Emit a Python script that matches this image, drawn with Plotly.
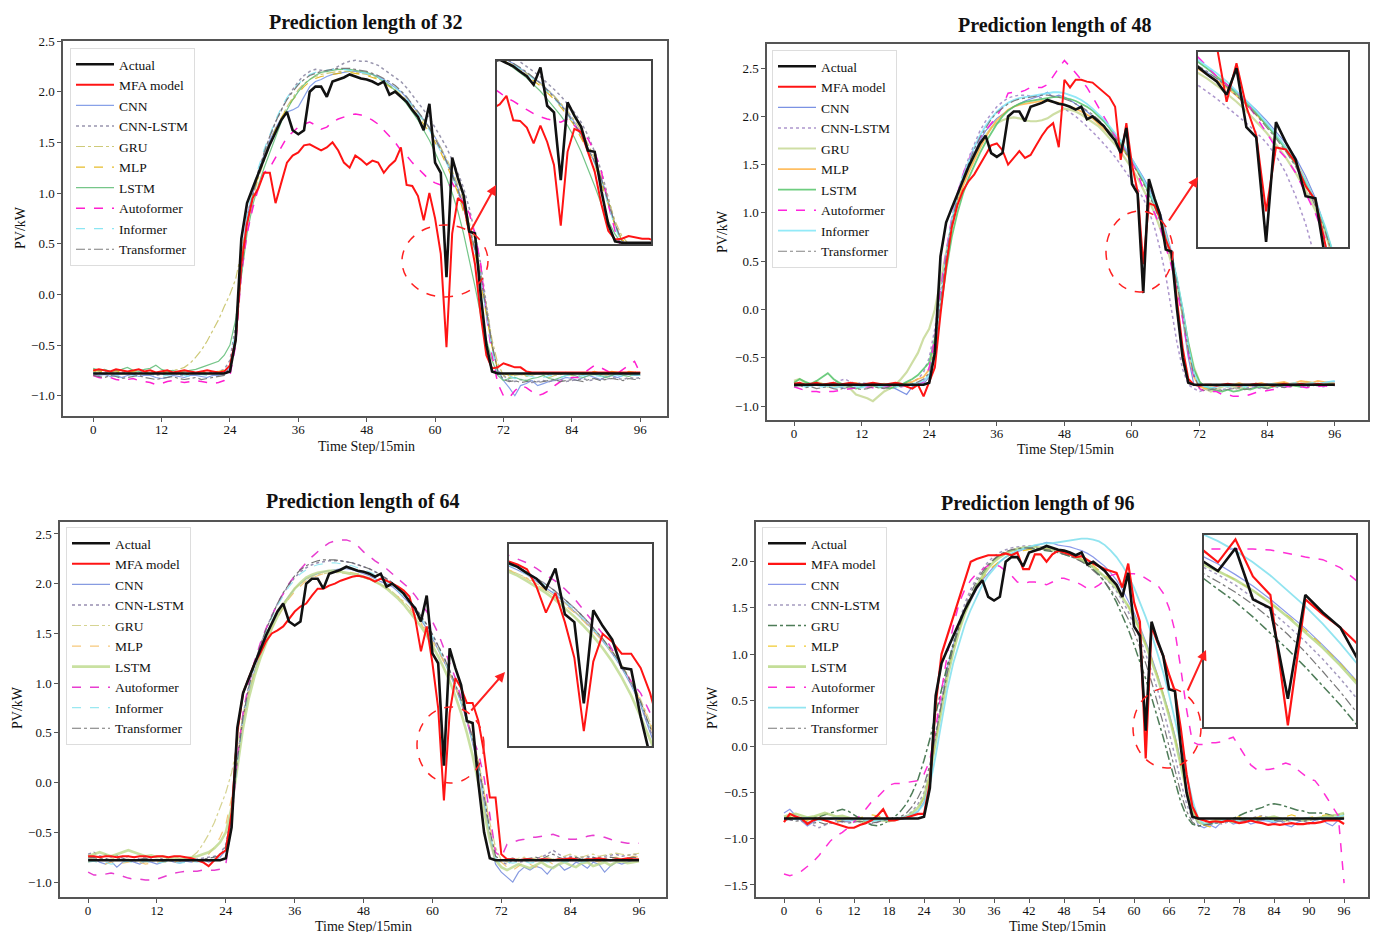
import plotly.graph_objects as go

W, H = 1375, 932
SERIF = "Liberation Serif, Times New Roman, serif"


def px(x):
    return x / W


def py(y):
    return 1 - y / H


# ---------------- data ----------------
X_TICKS_A = [0, 12, 24, 36, 48, 60, 72, 84, 96]
X_TICKS_B = [0, 6, 12, 18, 24, 30, 36, 42, 48, 54, 60, 66, 72, 78, 84, 90, 96]
Y_TICKS_A = [-1.0, -0.5, 0.0, 0.5, 1.0, 1.5, 2.0, 2.5]
Y_TICKS_B = [-1.5, -1.0, -0.5, 0.0, 0.5, 1.0, 1.5, 2.0]
TITLES = ["Prediction length of 32", "Prediction length of 48",
          "Prediction length of 64", "Prediction length of 96"]
LEGEND_ORDER = ["Actual", "MFA model", "CNN", "CNN-LSTM", "GRU", "MLP", "LSTM",
                "Autoformer", "Informer", "Transformer"]

ACTUAL = [
    -0.78, -0.78, -0.78, -0.78, -0.78, -0.78, -0.78, -0.78, -0.78, -0.78, -0.78, -0.78,
    -0.78, -0.78, -0.78, -0.78, -0.78, -0.78, -0.78, -0.78, -0.78, -0.78, -0.78, -0.78,
    -0.76, -0.45, 0.55, 0.9, 1.05, 1.2, 1.33, 1.48, 1.6, 1.72,
    1.8, 1.62, 1.58, 1.62, 2.0, 2.05, 2.05, 1.95, 2.1, 2.12,
    2.14, 2.17, 2.15, 2.13, 2.12, 2.1, 2.07, 2.1, 1.97, 2.0,
    1.95, 1.9, 1.82, 1.75, 1.62, 1.88, 1.3, 1.2, 0.17, 1.35,
    1.15, 0.98, 0.62, 0.6, 0.0, -0.5, -0.76,
    -0.78, -0.78, -0.78, -0.78, -0.78, -0.78, -0.78, -0.78, -0.78, -0.78, -0.78, -0.78, -0.78,
    -0.78, -0.78, -0.78, -0.78, -0.78, -0.78, -0.78, -0.78, -0.78, -0.78, -0.78, -0.78, -0.78]

# ---- panel 1 (length 32) ----
P1_MFA = [
    -0.75, -0.74, -0.75, -0.76, -0.74, -0.75, -0.76, -0.75, -0.74, -0.76, -0.75, -0.77,
    -0.76, -0.75, -0.77, -0.76, -0.75, -0.76, -0.77, -0.76, -0.75, -0.76, -0.77, -0.76,
    -0.7, -0.45, 0.3, 0.7, 0.95, 1.05, 1.2, 1.2, 0.9, 1.1,
    1.3, 1.37, 1.4, 1.47, 1.48, 1.45, 1.42, 1.45, 1.5, 1.42,
    1.3, 1.25, 1.37, 1.33, 1.28, 1.32, 1.3, 1.2, 1.27, 1.32,
    1.45, 1.08, 1.07, 0.97, 0.73, 1.0, 0.75, 0.4, -0.52, 0.6,
    0.95, 0.9, 0.6, 0.3, -0.2, -0.6, -0.73, -0.72,
    -0.68, -0.7, -0.72, -0.72, -0.76, -0.77, -0.77, -0.77, -0.77, -0.77, -0.77, -0.77, -0.77,
    -0.77, -0.77, -0.77, -0.77, -0.77, -0.77, -0.77, -0.77, -0.77, -0.77, -0.77, -0.77]
P1_CNN = [
    -0.78, -0.8, -0.79, -0.81, -0.8, -0.82, -0.8, -0.79, -0.81, -0.8, -0.8, -0.82,
    -0.83, -0.82, -0.8, -0.81, -0.82, -0.8, -0.8, -0.81, -0.82, -0.8, -0.8, -0.78,
    -0.72, -0.4, 0.35, 0.78, 1.0, 1.2, 1.38, 1.52, 1.64, 1.74,
    1.8, 1.82, 1.85, 1.95, 2.05, 2.1, 2.12, 2.15, 2.17, 2.18,
    2.19, 2.2, 2.2, 2.19, 2.18, 2.17, 2.15, 2.12, 2.08, 2.04,
    2.0, 1.94, 1.87, 1.8, 1.72, 1.65, 1.55, 1.45, 1.32, 1.2,
    1.05, 0.85, 0.65, 0.45, 0.2, -0.15, -0.5, -0.75,
    -0.85, -0.92, -1.0, -0.9, -0.88, -0.85, -0.9, -0.88, -0.86, -0.85, -0.84, -0.82, -0.83,
    -0.85, -0.82, -0.8, -0.82, -0.84, -0.81, -0.8, -0.82, -0.8, -0.79, -0.8, -0.8]
P1_CNN_LSTM = [
    -0.75, -0.77, -0.76, -0.78, -0.77, -0.76, -0.78, -0.79, -0.77, -0.76, -0.78, -0.8,
    -0.79, -0.78, -0.77, -0.79, -0.8, -0.78, -0.77, -0.79, -0.78, -0.77, -0.76, -0.74,
    -0.65, -0.3, 0.3, 0.75, 1.02, 1.22, 1.4, 1.56, 1.7, 1.82,
    1.93, 2.02, 2.1, 2.16, 2.2, 2.22, 2.21, 2.2, 2.22, 2.25,
    2.28, 2.3, 2.31, 2.3, 2.3, 2.28, 2.26, 2.22, 2.18, 2.14,
    2.1, 2.04, 1.97, 1.9, 1.82, 1.74, 1.65, 1.55, 1.45, 1.33,
    1.2, 1.05, 0.85, 0.6, 0.3, -0.1, -0.5, -0.75,
    -0.8, -0.85, -0.86, -0.84, -0.85, -0.87, -0.86, -0.85, -0.86, -0.85, -0.84, -0.86, -0.85,
    -0.84, -0.83, -0.85, -0.84, -0.83, -0.84, -0.82, -0.83, -0.84, -0.82, -0.83, -0.82]
P1_GRU = [
    -0.74, -0.76, -0.75, -0.77, -0.76, -0.78, -0.77, -0.76, -0.78, -0.77, -0.79, -0.78,
    -0.77, -0.76, -0.75, -0.74, -0.72, -0.68, -0.62, -0.55, -0.46, -0.36, -0.25, -0.12,
    0.0, 0.15, 0.42, 0.7, 0.95, 1.15, 1.32, 1.48, 1.62, 1.74,
    1.85, 1.94, 2.02, 2.08, 2.12, 2.15, 2.17, 2.18, 2.19, 2.2,
    2.2, 2.2, 2.19, 2.18, 2.17, 2.15, 2.13, 2.1, 2.06, 2.02,
    1.97, 1.92, 1.86, 1.79, 1.72, 1.64, 1.55, 1.45, 1.34, 1.22,
    1.08, 0.92, 0.72, 0.5, 0.22, -0.12, -0.45, -0.68,
    -0.8, -0.82, -0.8, -0.79, -0.81, -0.8, -0.78, -0.8, -0.82, -0.8, -0.79, -0.78, -0.8,
    -0.81, -0.79, -0.78, -0.77, -0.79, -0.8, -0.78, -0.77, -0.78, -0.79, -0.78, -0.77]
P1_MLP = [
    -0.76, -0.75, -0.77, -0.76, -0.75, -0.77, -0.78, -0.76, -0.75, -0.77, -0.78, -0.77,
    -0.76, -0.78, -0.77, -0.76, -0.78, -0.79, -0.77, -0.76, -0.78, -0.77, -0.76, -0.75,
    -0.7, -0.42, 0.25, 0.7, 0.98, 1.18, 1.36, 1.5, 1.63, 1.74,
    1.84, 1.92, 1.99, 2.05, 2.1, 2.13, 2.15, 2.16, 2.17, 2.18,
    2.19, 2.19, 2.18, 2.17, 2.16, 2.14, 2.12, 2.09, 2.05, 2.01,
    1.96, 1.9, 1.83, 1.76, 1.68, 1.6, 1.5, 1.4, 1.28, 1.15,
    1.0, 0.82, 0.62, 0.4, 0.12, -0.2, -0.52, -0.74,
    -0.78, -0.8, -0.79, -0.78, -0.8, -0.79, -0.78, -0.77, -0.79, -0.8, -0.78, -0.77, -0.76,
    -0.78, -0.79, -0.77, -0.76, -0.78, -0.77, -0.76, -0.77, -0.78, -0.76, -0.77, -0.76]
P1_LSTM = [
    -0.73, -0.75, -0.74, -0.76, -0.75, -0.74, -0.72, -0.75, -0.76, -0.74, -0.73, -0.7,
    -0.74, -0.76, -0.75, -0.77, -0.76, -0.75, -0.74, -0.72, -0.7, -0.68, -0.66, -0.6,
    -0.5, -0.25, 0.2, 0.6, 0.88, 1.08, 1.25, 1.4, 1.55, 1.7,
    1.82, 1.92, 2.0, 2.07, 2.12, 2.16, 2.19, 2.2, 2.21, 2.22,
    2.22, 2.22, 2.21, 2.2, 2.19, 2.17, 2.14, 2.1, 2.06, 2.01,
    1.95, 1.88, 1.8, 1.72, 1.62, 1.52, 1.4, 1.28, 1.15, 1.0,
    0.82, 0.6, 0.35, 0.08, -0.2, -0.45, -0.65, -0.8,
    -0.85, -0.83, -0.82, -0.84, -0.85, -0.83, -0.82, -0.8, -0.83, -0.84, -0.82, -0.8, -0.79,
    -0.81, -0.82, -0.8, -0.79, -0.8, -0.82, -0.8, -0.78, -0.8, -0.81, -0.79, -0.8]
P1_AUTOFORMER = [
    -0.8, -0.82, -0.83, -0.82, -0.84, -0.85, -0.84, -0.83, -0.85, -0.86, -0.87, -0.89,
    -0.88, -0.86, -0.85, -0.86, -0.87, -0.86, -0.85, -0.86, -0.87, -0.88, -0.87, -0.85,
    -0.8, -0.5, 0.2, 0.6, 0.85, 1.05, 1.2, 1.25, 1.35, 1.45,
    1.55, 1.6, 1.65, 1.68, 1.7, 1.67, 1.63, 1.65, 1.7, 1.73,
    1.75, 1.77, 1.78, 1.77, 1.75, 1.72, 1.68, 1.62, 1.57, 1.5,
    1.42, 1.37, 1.3, 1.24, 1.18, 1.13, 1.1, 1.08, 1.05, 1.1,
    1.0, 0.9, 0.8, 0.6, 0.3, -0.2, -0.6, -0.88,
    -1.0, -1.02, -0.95, -0.9, -0.92, -0.96, -1.0, -0.98, -0.95, -0.9, -0.86, -0.84, -0.82,
    -0.82, -0.78, -0.74, -0.7, -0.72, -0.75, -0.78, -0.78, -0.74, -0.7, -0.66, -0.78]
P1_INFORMER = [
    -0.77, -0.78, -0.79, -0.78, -0.8, -0.79, -0.78, -0.8, -0.81, -0.79, -0.78, -0.8,
    -0.81, -0.8, -0.79, -0.78, -0.8, -0.81, -0.8, -0.79, -0.8, -0.79, -0.78, -0.77,
    -0.7, -0.35, 0.3, 0.78, 1.03, 1.25, 1.43, 1.58, 1.72, 1.84,
    1.94, 2.02, 2.08, 2.13, 2.17, 2.19, 2.2, 2.21, 2.22, 2.22,
    2.22, 2.21, 2.2, 2.19, 2.18, 2.16, 2.14, 2.11, 2.08, 2.04,
    1.99, 1.93, 1.86, 1.79, 1.71, 1.62, 1.52, 1.41, 1.3, 1.17,
    1.02, 0.85, 0.65, 0.42, 0.15, -0.2, -0.55, -0.78,
    -0.82, -0.8, -0.83, -0.82, -0.8, -0.81, -0.83, -0.82, -0.8, -0.81, -0.82, -0.8, -0.79,
    -0.81, -0.8, -0.79, -0.8, -0.81, -0.8, -0.79, -0.8, -0.81, -0.8, -0.79, -0.8]
P1_TRANSFORMER = [
    -0.8, -0.81, -0.82, -0.8, -0.81, -0.83, -0.82, -0.81, -0.8, -0.82, -0.83, -0.84,
    -0.83, -0.82, -0.81, -0.83, -0.84, -0.83, -0.82, -0.84, -0.83, -0.82, -0.81, -0.8,
    -0.72, -0.45, 0.2, 0.7, 0.98, 1.2, 1.4, 1.56, 1.7, 1.82,
    1.92, 2.0, 2.07, 2.12, 2.16, 2.18, 2.2, 2.21, 2.22, 2.23,
    2.23, 2.23, 2.22, 2.21, 2.2, 2.18, 2.16, 2.13, 2.1, 2.06,
    2.01, 1.95, 1.88, 1.81, 1.73, 1.64, 1.54, 1.43, 1.31, 1.18,
    1.03, 0.86, 0.66, 0.44, 0.18, -0.15, -0.5, -0.76,
    -0.84, -0.86, -0.85, -0.87, -0.86, -0.85, -0.87, -0.86, -0.85, -0.84, -0.86, -0.85, -0.84,
    -0.85, -0.86, -0.84, -0.83, -0.85, -0.84, -0.83, -0.84, -0.85, -0.83, -0.84, -0.83]

# ---- panel 2 (length 48) ----
P2_MFA = [
    -0.77, -0.76, -0.78, -0.77, -0.76, -0.78, -0.77, -0.76, -0.78, -0.77, -0.76, -0.77,
    -0.78, -0.77, -0.76, -0.77, -0.78, -0.77, -0.76, -0.77, -0.8, -0.82, -0.78, -0.9,
    -0.75, -0.6, -0.05, 0.45, 0.85, 1.08, 1.23, 1.33, 1.4, 1.5,
    1.6, 1.7, 1.72, 1.65, 1.5, 1.57, 1.64, 1.57, 1.6, 1.7,
    1.8, 1.88, 1.93, 1.68, 2.38, 2.3, 2.38, 2.38, 2.36, 2.35,
    2.3, 2.25, 2.2, 2.1, 1.55, 1.93, 1.5, 1.22, 0.47, 1.1,
    1.08, 0.95, 0.72, 0.58, 0.1, -0.4, -0.72, -0.78,
    -0.79, -0.78, -0.78, -0.79, -0.78, -0.77, -0.78, -0.79, -0.78, -0.78, -0.77, -0.78, -0.78,
    -0.79, -0.78, -0.77, -0.78, -0.78, -0.77, -0.78, -0.78, -0.77, -0.78, -0.78, -0.78]
P2_CNN = [
    -0.78, -0.76, -0.8, -0.78, -0.77, -0.79, -0.78, -0.76, -0.8, -0.82, -0.78, -0.77,
    -0.79, -0.8, -0.78, -0.77, -0.79, -0.8, -0.82, -0.85, -0.88, -0.8, -0.78, -0.77,
    -0.7, -0.45, 0.0, 0.5, 0.9, 1.15, 1.35, 1.5, 1.63, 1.75,
    1.85, 1.92, 1.98, 2.02, 2.06, 2.1, 2.13, 2.16, 2.18, 2.2,
    2.22, 2.25, 2.2, 2.22, 2.2, 2.17, 2.13, 2.09, 2.05, 2.0,
    1.95, 1.9, 1.84, 1.78, 1.72, 1.65, 1.56, 1.47, 1.37, 1.26,
    1.14, 1.0, 0.82, 0.6, 0.3, -0.1, -0.5, -0.78,
    -0.8, -0.78, -0.82, -0.8, -0.79, -0.78, -0.8, -0.81, -0.78, -0.79, -0.8, -0.78, -0.77,
    -0.79, -0.8, -0.78, -0.77, -0.78, -0.8, -0.79, -0.77, -0.78, -0.76, -0.75, -0.75]
P2_CNN_LSTM = [
    -0.77, -0.78, -0.76, -0.77, -0.79, -0.78, -0.77, -0.76, -0.74, -0.72, -0.75, -0.77,
    -0.76, -0.77, -0.78, -0.8, -0.82, -0.81, -0.8, -0.78, -0.76, -0.75, -0.72, -0.65,
    -0.5, -0.2, 0.2, 0.6, 0.95, 1.2, 1.4, 1.57, 1.72, 1.85,
    1.95, 2.03, 2.1, 2.15, 2.19, 2.21, 2.22, 2.22, 2.21, 2.2,
    2.19, 2.17, 2.15, 2.12, 2.08, 2.04, 2.0, 1.95, 1.9, 1.84,
    1.78, 1.72, 1.65, 1.58, 1.5, 1.42, 1.34, 1.25, 1.15, 1.02,
    0.85, 0.62, 0.35, 0.0, -0.35, -0.62, -0.78, -0.82,
    -0.85, -0.83, -0.82, -0.84, -0.83, -0.82, -0.81, -0.83, -0.82, -0.8, -0.81, -0.82, -0.8,
    -0.79, -0.81, -0.8, -0.79, -0.78, -0.8, -0.79, -0.78, -0.79, -0.8, -0.78, -0.79]
P2_GRU = [
    -0.74, -0.72, -0.76, -0.78, -0.75, -0.77, -0.8, -0.78, -0.76, -0.8, -0.82, -0.88,
    -0.9, -0.92, -0.95, -0.9, -0.85, -0.82, -0.78, -0.72, -0.65, -0.55, -0.45, -0.3,
    -0.2, 0.0, 0.3, 0.6, 0.88, 1.1, 1.3, 1.45, 1.58, 1.7,
    1.8, 1.88, 1.93, 1.96, 1.98, 1.99, 1.98, 1.96, 1.95, 1.95,
    1.96, 1.98, 2.02, 2.05, 2.08, 2.07, 2.05, 2.02, 1.98, 1.94,
    1.9, 1.84, 1.78, 1.71, 1.63, 1.55, 1.46, 1.36, 1.25, 1.13,
    1.0, 0.85, 0.68, 0.48, 0.25, -0.05, -0.35, -0.6,
    -0.75, -0.82, -0.85, -0.83, -0.8, -0.78, -0.8, -0.82, -0.8, -0.78, -0.77, -0.79, -0.8,
    -0.78, -0.77, -0.76, -0.78, -0.79, -0.77, -0.75, -0.76, -0.78, -0.77, -0.76, -0.77]
P2_MLP = [
    -0.78, -0.77, -0.79, -0.78, -0.76, -0.77, -0.78, -0.79, -0.8, -0.78, -0.77, -0.76,
    -0.78, -0.8, -0.79, -0.78, -0.77, -0.79, -0.8, -0.78, -0.76, -0.75, -0.72, -0.7,
    -0.62, -0.35, 0.05, 0.5, 0.85, 1.1, 1.28, 1.42, 1.55, 1.67,
    1.78, 1.88, 1.96, 2.02, 2.07, 2.1, 2.12, 2.13, 2.14, 2.15,
    2.16, 2.16, 2.15, 2.14, 2.12, 2.1, 2.08, 2.05, 2.02, 1.98,
    1.93, 1.88, 1.82, 1.76, 1.69, 1.61, 1.52, 1.43, 1.33, 1.22,
    1.1, 0.96, 0.78, 0.56, 0.3, -0.05, -0.42, -0.7,
    -0.8, -0.82, -0.8, -0.78, -0.79, -0.8, -0.78, -0.76, -0.78, -0.79, -0.77, -0.76, -0.78,
    -0.77, -0.76, -0.75, -0.77, -0.76, -0.74, -0.75, -0.76, -0.74, -0.75, -0.76, -0.77]
P2_LSTM = [
    -0.76, -0.72, -0.75, -0.77, -0.74, -0.7, -0.66, -0.72, -0.76, -0.78, -0.8, -0.82,
    -0.8, -0.78, -0.79, -0.81, -0.8, -0.82, -0.8, -0.78, -0.75, -0.72, -0.68, -0.62,
    -0.55, -0.3, 0.0, 0.4, 0.75, 1.0, 1.2, 1.36, 1.5, 1.62,
    1.73, 1.83, 1.92, 2.0, 2.06, 2.1, 2.13, 2.15, 2.16, 2.17,
    2.18, 2.19, 2.2, 2.2, 2.19, 2.18, 2.16, 2.13, 2.1, 2.06,
    2.01, 1.95, 1.88, 1.8, 1.72, 1.63, 1.54, 1.44, 1.33, 1.21,
    1.08, 0.93, 0.76, 0.56, 0.3, 0.0, -0.35, -0.62,
    -0.75, -0.8, -0.82, -0.84, -0.85, -0.83, -0.85, -0.84, -0.82, -0.83, -0.81, -0.8, -0.82,
    -0.8, -0.79, -0.8, -0.78, -0.79, -0.8, -0.78, -0.77, -0.78, -0.79, -0.77, -0.78]
P2_AUTOFORMER = [
    -0.8, -0.82, -0.84, -0.85, -0.85, -0.86, -0.85, -0.85, -0.84, -0.83, -0.82, -0.81,
    -0.8, -0.8, -0.81, -0.8, -0.8, -0.79, -0.8, -0.8, -0.79, -0.78, -0.77, -0.75,
    -0.6, -0.3, 0.2, 0.6, 0.95, 1.2, 1.4, 1.55, 1.68, 1.78,
    1.85, 1.92, 2.0, 2.1, 2.24, 2.25, 2.25, 2.27, 2.3, 2.3,
    2.3, 2.33, 2.42, 2.5, 2.58, 2.52, 2.45, 2.38, 2.3, 2.2,
    2.1, 2.0, 1.9, 1.8, 1.72, 1.65, 1.55, 1.4, 1.25, 1.1,
    1.0, 0.85, 0.65, 0.45, 0.2, -0.1, -0.45, -0.7,
    -0.82, -0.85, -0.85, -0.85, -0.88, -0.88, -0.9, -0.9, -0.9, -0.88, -0.86, -0.85, -0.84,
    -0.83, -0.82, -0.8, -0.8, -0.8, -0.8, -0.81, -0.8, -0.8, -0.79, -0.8, -0.8]
P2_INFORMER = [
    -0.79, -0.78, -0.8, -0.79, -0.78, -0.8, -0.79, -0.81, -0.8, -0.79, -0.78, -0.8,
    -0.81, -0.79, -0.78, -0.8, -0.79, -0.78, -0.8, -0.79, -0.78, -0.77, -0.76, -0.74,
    -0.68, -0.4, 0.05, 0.55, 0.92, 1.18, 1.38, 1.54, 1.68, 1.8,
    1.9, 1.98, 2.05, 2.1, 2.14, 2.17, 2.19, 2.2, 2.21, 2.22,
    2.23, 2.24, 2.25, 2.25, 2.24, 2.22, 2.2, 2.17, 2.13, 2.08,
    2.03, 1.97, 1.9, 1.83, 1.75, 1.66, 1.56, 1.46, 1.35, 1.23,
    1.1, 0.95, 0.78, 0.57, 0.32, 0.0, -0.38, -0.66,
    -0.78, -0.8, -0.81, -0.8, -0.79, -0.8, -0.78, -0.79, -0.8, -0.78, -0.77, -0.79, -0.78,
    -0.77, -0.78, -0.79, -0.77, -0.76, -0.78, -0.77, -0.76, -0.77, -0.76, -0.75, -0.74]
P2_TRANSFORMER = [
    -0.8, -0.79, -0.81, -0.8, -0.82, -0.81, -0.8, -0.82, -0.83, -0.81, -0.8, -0.82,
    -0.83, -0.82, -0.8, -0.81, -0.82, -0.8, -0.79, -0.8, -0.78, -0.77, -0.75, -0.72,
    -0.66, -0.38, 0.08, 0.55, 0.9, 1.15, 1.36, 1.52, 1.66, 1.78,
    1.88, 1.97, 2.04, 2.09, 2.13, 2.16, 2.18, 2.19, 2.2, 2.21,
    2.22, 2.22, 2.21, 2.2, 2.18, 2.16, 2.13, 2.1, 2.06, 2.02,
    1.97, 1.91, 1.85, 1.78, 1.7, 1.61, 1.52, 1.42, 1.31, 1.19,
    1.06, 0.91, 0.73, 0.52, 0.27, -0.05, -0.42, -0.68,
    -0.82, -0.84, -0.83, -0.82, -0.84, -0.83, -0.82, -0.81, -0.83, -0.82, -0.8, -0.81, -0.82,
    -0.8, -0.79, -0.81, -0.8, -0.79, -0.78, -0.8, -0.79, -0.78, -0.77, -0.78, -0.77]

# ---- panel 3 (length 64) ----
P3_MFA = [
    -0.74, -0.74, -0.75, -0.74, -0.74, -0.75, -0.74, -0.74, -0.75, -0.74, -0.74, -0.75,
    -0.74, -0.74, -0.75, -0.74, -0.74, -0.75, -0.76, -0.78, -0.8, -0.84, -0.78, -0.72,
    -0.68, -0.3, 0.5, 0.9, 1.05, 1.2, 1.3, 1.42, 1.5, 1.53,
    1.57, 1.65, 1.72, 1.77, 1.8, 1.88, 1.95, 1.95, 1.98, 2.0,
    2.03, 2.05, 2.07, 2.08, 2.07, 2.05, 2.02, 2.05, 2.03, 2.0,
    1.97, 1.93, 1.87, 1.65, 1.32, 1.57, 1.2, 0.75, -0.18, 0.7,
    1.05, 0.95, 0.8, 0.8, 0.62, 0.3, -0.15, -0.15,
    -0.72, -0.77, -0.77, -0.78, -0.77, -0.77, -0.78, -0.77, -0.77, -0.78, -0.77, -0.77, -0.76,
    -0.77, -0.78, -0.77, -0.77, -0.76, -0.77, -0.78, -0.77, -0.77, -0.76, -0.77, -0.77]
P3_CNN = [
    -0.78, -0.76, -0.8, -0.82, -0.79, -0.85, -0.8, -0.78, -0.8, -0.82, -0.79, -0.8,
    -0.82, -0.8, -0.78, -0.8, -0.81, -0.79, -0.8, -0.78, -0.77, -0.8, -0.78, -0.75,
    -0.68, -0.35, 0.2, 0.6, 0.9, 1.12, 1.3, 1.45, 1.58, 1.7,
    1.8, 1.88, 1.95, 2.0, 2.05, 2.08, 2.1, 2.12, 2.13, 2.14,
    2.15, 2.15, 2.14, 2.12, 2.1, 2.08, 2.05, 2.02, 2.0, 1.97,
    1.92, 1.86, 1.8, 1.72, 1.64, 1.55, 1.45, 1.34, 1.22, 1.1,
    0.96, 0.8, 0.62, 0.4, 0.15, -0.2, -0.55, -0.82,
    -0.9, -0.95, -1.0, -0.9, -0.85, -0.88, -0.84, -0.86, -0.92, -0.85, -0.82, -0.88, -0.85,
    -0.8, -0.82, -0.86, -0.8, -0.82, -0.9, -0.84, -0.8, -0.82, -0.8, -0.78, -0.78]
P3_CNN_LSTM = [
    -0.72, -0.7, -0.74, -0.72, -0.75, -0.73, -0.76, -0.74, -0.75, -0.77, -0.74, -0.76,
    -0.75, -0.77, -0.76, -0.78, -0.77, -0.76, -0.78, -0.77, -0.76, -0.75, -0.74, -0.72,
    -0.62, -0.3, 0.25, 0.68, 0.98, 1.2, 1.38, 1.54, 1.68, 1.8,
    1.9, 1.99, 2.06, 2.12, 2.16, 2.19, 2.21, 2.22, 2.23, 2.23,
    2.23, 2.22, 2.21, 2.19, 2.17, 2.15, 2.12, 2.09, 2.05, 2.01,
    1.96, 1.9, 1.83, 1.76, 1.68, 1.59, 1.49, 1.38, 1.26, 1.13,
    0.98, 0.82, 0.63, 0.42, 0.17, -0.15, -0.5, -0.75,
    -0.8, -0.82, -0.78, -0.8, -0.79, -0.78, -0.76, -0.75, -0.72, -0.68, -0.72, -0.75, -0.74,
    -0.76, -0.75, -0.74, -0.76, -0.75, -0.74, -0.73, -0.72, -0.74, -0.73, -0.72, -0.73]
P3_GRU = [
    -0.75, -0.77, -0.76, -0.78, -0.77, -0.76, -0.78, -0.77, -0.79, -0.78, -0.8, -0.79,
    -0.78, -0.8, -0.79, -0.78, -0.77, -0.78, -0.75, -0.7, -0.62, -0.52, -0.4, -0.25,
    -0.1, 0.1, 0.4, 0.68, 0.92, 1.12, 1.3, 1.45, 1.58, 1.7,
    1.8, 1.88, 1.95, 2.0, 2.04, 2.07, 2.09, 2.1, 2.11, 2.11,
    2.11, 2.1, 2.09, 2.08, 2.06, 2.04, 2.02, 1.99, 1.96, 1.92,
    1.87, 1.82, 1.76, 1.69, 1.61, 1.53, 1.44, 1.34, 1.23, 1.11,
    0.98, 0.83, 0.66, 0.46, 0.22, -0.08, -0.4, -0.65,
    -0.78, -0.8, -0.78, -0.76, -0.75, -0.77, -0.76, -0.74, -0.75, -0.77, -0.76, -0.74, -0.72,
    -0.74, -0.75, -0.73, -0.72, -0.74, -0.73, -0.72, -0.71, -0.72, -0.73, -0.72, -0.71]
P3_MLP = [
    -0.8, -0.78, -0.8, -0.82, -0.8, -0.79, -0.81, -0.8, -0.78, -0.8, -0.82, -0.81,
    -0.8, -0.79, -0.81, -0.8, -0.78, -0.79, -0.8, -0.78, -0.76, -0.72, -0.65, -0.55,
    -0.42, -0.15, 0.25, 0.62, 0.9, 1.1, 1.27, 1.42, 1.55, 1.66,
    1.76, 1.85, 1.92, 1.98, 2.03, 2.06, 2.08, 2.1, 2.11, 2.12,
    2.12, 2.12, 2.11, 2.1, 2.08, 2.06, 2.03, 2.0, 1.96, 1.92,
    1.87, 1.81, 1.75, 1.68, 1.6, 1.51, 1.42, 1.32, 1.21, 1.09,
    0.96, 0.81, 0.64, 0.44, 0.2, -0.1, -0.45, -0.7,
    -0.8, -0.85, -0.88, -0.84, -0.8, -0.82, -0.85, -0.8, -0.78, -0.82, -0.8, -0.77, -0.79,
    -0.8, -0.78, -0.76, -0.78, -0.8, -0.77, -0.76, -0.75, -0.77, -0.76, -0.74, -0.75]
P3_LSTM = [
    -0.74, -0.72, -0.7, -0.72, -0.74, -0.72, -0.7, -0.68, -0.7, -0.72, -0.74, -0.73,
    -0.75, -0.74, -0.76, -0.75, -0.77, -0.76, -0.75, -0.74, -0.72, -0.7, -0.66, -0.6,
    -0.5, -0.25, 0.15, 0.55, 0.85, 1.07, 1.25, 1.41, 1.55, 1.67,
    1.78, 1.87, 1.95, 2.01, 2.06, 2.09, 2.11, 2.12, 2.13, 2.13,
    2.12, 2.11, 2.1, 2.09, 2.07, 2.05, 2.02, 1.99, 1.95, 1.9,
    1.85, 1.79, 1.72, 1.65, 1.57, 1.48, 1.38, 1.27, 1.15, 1.02,
    0.87, 0.7, 0.5, 0.27, 0.0, -0.3, -0.58, -0.78,
    -0.85, -0.88, -0.85, -0.82, -0.84, -0.86, -0.83, -0.8, -0.84, -0.86, -0.82, -0.8, -0.83,
    -0.85, -0.81, -0.8, -0.84, -0.82, -0.8, -0.83, -0.8, -0.79, -0.81, -0.8, -0.79]
P3_AUTOFORMER = [
    -0.9, -0.93, -0.93, -0.92, -0.91, -0.92, -0.94, -0.96, -0.97, -0.97, -0.98, -0.98,
    -0.97, -0.95, -0.93, -0.91, -0.9, -0.89, -0.89, -0.89, -0.88, -0.88, -0.88, -0.87,
    -0.82, -0.4, 0.25, 0.7, 1.0, 1.22, 1.4, 1.55, 1.68, 1.8,
    1.9, 2.0, 2.08, 2.15, 2.21, 2.27, 2.32, 2.37, 2.41, 2.43,
    2.44, 2.44, 2.42, 2.38, 2.32, 2.27, 2.23, 2.19, 2.15, 2.1,
    2.05, 2.0, 1.95, 1.88, 1.8, 1.72, 1.62, 1.5, 1.35, 1.2,
    1.05, 0.85, 0.62, 0.45, 0.3, 0.05, -0.35, -0.7,
    -0.75, -0.62, -0.6, -0.58, -0.57, -0.55, -0.55, -0.54, -0.53, -0.52, -0.54, -0.56, -0.57,
    -0.57, -0.56, -0.54, -0.53, -0.54, -0.55, -0.57, -0.59, -0.6, -0.61, -0.61, -0.61]
P3_INFORMER = [
    -0.8, -0.79, -0.81, -0.8, -0.82, -0.81, -0.8, -0.79, -0.81, -0.8, -0.79, -0.8,
    -0.81, -0.8, -0.79, -0.8, -0.81, -0.8, -0.79, -0.8, -0.79, -0.78, -0.77, -0.75,
    -0.65, -0.32, 0.2, 0.65, 0.95, 1.18, 1.36, 1.52, 1.66, 1.78,
    1.88, 1.97, 2.04, 2.1, 2.14, 2.17, 2.19, 2.2, 2.21, 2.21,
    2.2, 2.19, 2.18, 2.16, 2.14, 2.12, 2.09, 2.06, 2.02, 1.98,
    1.93, 1.87, 1.81, 1.74, 1.66, 1.57, 1.47, 1.36, 1.24, 1.11,
    0.97, 0.81, 0.63, 0.42, 0.17, -0.15, -0.5, -0.76,
    -0.82, -0.8, -0.81, -0.8, -0.79, -0.81, -0.8, -0.78, -0.8, -0.79, -0.78, -0.8, -0.79,
    -0.78, -0.8, -0.79, -0.78, -0.77, -0.79, -0.78, -0.77, -0.78, -0.79, -0.78, -0.78]
P3_TRANSFORMER = [
    -0.76, -0.75, -0.77, -0.76, -0.78, -0.77, -0.76, -0.78, -0.79, -0.77, -0.76, -0.78,
    -0.77, -0.79, -0.78, -0.77, -0.79, -0.78, -0.77, -0.78, -0.77, -0.76, -0.75, -0.73,
    -0.64, -0.33, 0.22, 0.66, 0.96, 1.19, 1.38, 1.54, 1.68, 1.8,
    1.91, 2.0, 2.08, 2.14, 2.18, 2.21, 2.23, 2.24, 2.24, 2.24,
    2.23, 2.22, 2.21, 2.19, 2.17, 2.15, 2.12, 2.09, 2.05, 2.01,
    1.96, 1.9, 1.83, 1.76, 1.68, 1.59, 1.49, 1.38, 1.26, 1.13,
    0.99, 0.83, 0.65, 0.44, 0.19, -0.13, -0.48, -0.74,
    -0.78, -0.77, -0.76, -0.78, -0.77, -0.76, -0.75, -0.77, -0.74, -0.72, -0.75, -0.77, -0.76,
    -0.75, -0.77, -0.76, -0.75, -0.77, -0.76, -0.75, -0.76, -0.77, -0.76, -0.75, -0.76]

# ---- panel 4 (length 96) ----
P4_MFA = [
    -0.82, -0.73, -0.76, -0.78, -0.84, -0.8, -0.78, -0.8, -0.82, -0.84, -0.86, -0.88,
    -0.88, -0.85, -0.83, -0.8, -0.75, -0.68, -0.8, -0.8, -0.78, -0.77, -0.75, -0.73,
    -0.73, -0.4, 0.45, 1.0, 1.2, 1.4, 1.6, 1.8, 2.0, 2.03,
    2.05, 2.07, 2.07, 2.07, 2.09, 2.07, 2.1, 1.92, 1.92, 2.08,
    2.08, 2.0, 2.08, 2.12, 2.1, 2.08, 2.05, 2.06, 2.02, 1.98,
    1.95, 1.92, 1.9, 1.88, 1.72, 1.98, 1.56, 1.35, -0.13, 1.3,
    1.13, 0.98, 0.78, 0.6, 0.2, -0.3, -0.65, -0.78,
    -0.8, -0.82, -0.81, -0.82, -0.8, -0.81, -0.83, -0.82, -0.8, -0.82, -0.83, -0.85, -0.84,
    -0.85, -0.84, -0.83, -0.84, -0.84, -0.83, -0.83, -0.82, -0.8, -0.8, -0.8, -0.84]
P4_CNN = [
    -0.72, -0.68, -0.75, -0.8, -0.86, -0.82, -0.78, -0.8, -0.79, -0.78, -0.8, -0.82,
    -0.79, -0.78, -0.8, -0.81, -0.79, -0.8, -0.78, -0.8, -0.79, -0.78, -0.75, -0.7,
    -0.6, -0.3, 0.1, 0.5, 0.85, 1.1, 1.3, 1.45, 1.58, 1.7,
    1.8, 1.88, 1.95, 2.0, 2.05, 2.08, 2.11, 2.13, 2.15, 2.17,
    2.19, 2.21, 2.2, 2.18, 2.17, 2.16, 2.14, 2.12, 2.09, 2.05,
    2.0, 1.95, 1.88, 1.8, 1.7, 1.58, 1.45, 1.3, 1.14, 0.97,
    0.78, 0.58, 0.36, 0.12, -0.15, -0.45, -0.7, -0.85,
    -0.88, -0.85, -0.88, -0.82, -0.8, -0.84, -0.82, -0.8, -0.84, -0.82, -0.8, -0.81, -0.83,
    -0.8, -0.85, -0.87, -0.82, -0.8, -0.84, -0.8, -0.78, -0.83, -0.86, -0.8, -0.78]
P4_CNN_LSTM = [
    -0.78, -0.8, -0.79, -0.81, -0.83, -0.85, -0.88, -0.85, -0.83, -0.8, -0.82, -0.81,
    -0.8, -0.82, -0.83, -0.84, -0.82, -0.8, -0.81, -0.8, -0.78, -0.75, -0.7, -0.62,
    -0.5, -0.22, 0.15, 0.52, 0.85, 1.12, 1.35, 1.55, 1.7, 1.82,
    1.92, 2.0, 2.06, 2.1, 2.13, 2.15, 2.16, 2.17, 2.17, 2.17,
    2.16, 2.15, 2.14, 2.12, 2.1, 2.08, 2.05, 2.02, 1.98, 1.94,
    1.89, 1.83, 1.76, 1.68, 1.58, 1.46, 1.32, 1.17, 1.0, 0.82,
    0.62, 0.4, 0.16, -0.1, -0.38, -0.62, -0.78, -0.82,
    -0.84, -0.83, -0.82, -0.84, -0.82, -0.8, -0.79, -0.81, -0.78, -0.76, -0.75, -0.77, -0.79,
    -0.8, -0.82, -0.8, -0.79, -0.81, -0.8, -0.78, -0.79, -0.8, -0.78, -0.77, -0.78]
P4_GRU = [
    -0.78, -0.77, -0.78, -0.79, -0.78, -0.77, -0.76, -0.74, -0.72, -0.7, -0.68, -0.7,
    -0.74, -0.78, -0.82, -0.85, -0.86, -0.84, -0.8, -0.76, -0.7, -0.62, -0.5, -0.35,
    -0.15, 0.08, 0.35, 0.62, 0.88, 1.1, 1.3, 1.47, 1.62, 1.75,
    1.86, 1.95, 2.02, 2.07, 2.1, 2.12, 2.13, 2.14, 2.14, 2.14,
    2.13, 2.12, 2.11, 2.1, 2.08, 2.06, 2.04, 2.01, 1.97, 1.92,
    1.86, 1.78, 1.68, 1.56, 1.42, 1.27, 1.1, 0.92, 0.73, 0.53,
    0.32, 0.1, -0.14, -0.38, -0.6, -0.76, -0.84, -0.86,
    -0.85, -0.84, -0.83, -0.82, -0.8, -0.78, -0.75, -0.72, -0.7, -0.68, -0.66, -0.63, -0.62,
    -0.63, -0.65, -0.67, -0.69, -0.7, -0.72, -0.72, -0.72, -0.73, -0.75, -0.74, -0.73]
P4_MLP = [
    -0.77, -0.76, -0.78, -0.79, -0.8, -0.78, -0.77, -0.79, -0.8, -0.81, -0.79, -0.8,
    -0.78, -0.77, -0.76, -0.74, -0.75, -0.77, -0.78, -0.8, -0.79, -0.77, -0.74, -0.68,
    -0.55, -0.3, 0.05, 0.45, 0.8, 1.05, 1.27, 1.45, 1.6, 1.72,
    1.82, 1.9, 1.96, 2.01, 2.05, 2.08, 2.1, 2.12, 2.13, 2.14,
    2.14, 2.14, 2.13, 2.12, 2.1, 2.08, 2.06, 2.03, 2.0, 1.96,
    1.91, 1.86, 1.8, 1.72, 1.63, 1.52, 1.4, 1.26, 1.11, 0.95,
    0.77, 0.57, 0.35, 0.1, -0.18, -0.45, -0.68, -0.8,
    -0.85, -0.87, -0.85, -0.82, -0.8, -0.78, -0.76, -0.8, -0.78, -0.77, -0.75, -0.78, -0.8,
    -0.78, -0.76, -0.74, -0.76, -0.78, -0.77, -0.76, -0.75, -0.74, -0.76, -0.77, -0.76]
P4_LSTM = [
    -0.76, -0.74, -0.73, -0.75, -0.77, -0.76, -0.74, -0.72, -0.74, -0.76, -0.75, -0.77,
    -0.79, -0.81, -0.82, -0.8, -0.79, -0.8, -0.81, -0.79, -0.78, -0.76, -0.72, -0.66,
    -0.55, -0.3, 0.05, 0.42, 0.75, 1.02, 1.25, 1.44, 1.6, 1.73,
    1.84, 1.93, 2.0, 2.05, 2.09, 2.12, 2.14, 2.15, 2.16, 2.16,
    2.15, 2.14, 2.13, 2.12, 2.1, 2.08, 2.05, 2.02, 1.98, 1.94,
    1.89, 1.84, 1.78, 1.71, 1.62, 1.52, 1.4, 1.26, 1.1, 0.93,
    0.75, 0.55, 0.33, 0.08, -0.2, -0.48, -0.7, -0.82,
    -0.84, -0.82, -0.8, -0.79, -0.8, -0.82, -0.8, -0.78, -0.79, -0.8, -0.78, -0.77, -0.76,
    -0.78, -0.8, -0.79, -0.78, -0.8, -0.79, -0.78, -0.77, -0.76, -0.75, -0.74, -0.72]
P4_AUTOFORMER = [
    -1.38, -1.4, -1.38, -1.35, -1.3, -1.25, -1.18, -1.1, -1.02, -0.97, -0.93, -0.88,
    -0.82, -0.75, -0.68, -0.6, -0.55, -0.48, -0.42, -0.4, -0.4, -0.39, -0.38, -0.37,
    -0.3, -0.15, 0.2, 0.6, 1.0, 1.3, 1.55, 1.7, 1.8, 1.87,
    1.92, 1.96, 1.97, 1.95, 1.9, 1.85, 1.78, 1.76, 1.78, 1.78,
    1.77, 1.75, 1.78, 1.82, 1.82, 1.8, 1.78, 1.75, 1.71, 1.71,
    1.75, 1.8, 1.85, 1.87, 1.87, 1.87, 1.87, 1.86, 1.82, 1.78,
    1.75, 1.66, 1.5, 1.25, 0.85, 0.4, 0.05, 0.02,
    0.02, 0.04, 0.04, 0.05, 0.08, 0.1, 0.0, -0.1, -0.2, -0.25, -0.25, -0.25, -0.24,
    -0.2, -0.18, -0.2, -0.25, -0.3, -0.35, -0.37, -0.45, -0.55, -0.65, -0.75, -1.48]
P4_INFORMER = [
    -0.77, -0.78, -0.79, -0.78, -0.77, -0.79, -0.8, -0.79, -0.78, -0.77, -0.79, -0.8,
    -0.79, -0.78, -0.8, -0.81, -0.8, -0.79, -0.8, -0.78, -0.77, -0.76, -0.74, -0.7,
    -0.62, -0.42, -0.1, 0.28, 0.62, 0.9, 1.12, 1.32, 1.48, 1.62,
    1.75, 1.85, 1.93, 2.0, 2.05, 2.09, 2.12, 2.14, 2.16, 2.18,
    2.19, 2.2, 2.2, 2.21, 2.22, 2.23, 2.24, 2.25, 2.25, 2.24,
    2.22, 2.18, 2.12, 2.05, 1.96, 1.85, 1.72, 1.57, 1.4, 1.22,
    1.02, 0.8, 0.56, 0.3, 0.02, -0.3, -0.58, -0.78,
    -0.84, -0.82, -0.83, -0.8, -0.79, -0.81, -0.8, -0.78, -0.8, -0.79, -0.78, -0.8, -0.81,
    -0.79, -0.78, -0.8, -0.79, -0.78, -0.77, -0.79, -0.78, -0.77, -0.78, -0.76, -0.75]
P4_TRANSFORMER = [
    -0.8, -0.79, -0.81, -0.8, -0.82, -0.83, -0.82, -0.84, -0.83, -0.82, -0.81, -0.83,
    -0.82, -0.81, -0.82, -0.83, -0.82, -0.8, -0.79, -0.78, -0.76, -0.72, -0.65, -0.55,
    -0.42, -0.2, 0.12, 0.48, 0.8, 1.07, 1.3, 1.5, 1.66, 1.79,
    1.89, 1.97, 2.03, 2.08, 2.11, 2.13, 2.14, 2.15, 2.15, 2.15,
    2.14, 2.13, 2.12, 2.1, 2.08, 2.06, 2.03, 2.0, 1.96, 1.91,
    1.85, 1.78, 1.7, 1.61, 1.5, 1.38, 1.24, 1.08, 0.9, 0.7,
    0.48, 0.25, 0.0, -0.25, -0.5, -0.7, -0.82, -0.86,
    -0.85, -0.84, -0.83, -0.82, -0.81, -0.8, -0.79, -0.8, -0.81, -0.8, -0.79, -0.78, -0.8,
    -0.81, -0.8, -0.79, -0.8, -0.81, -0.8, -0.79, -0.8, -0.79, -0.78, -0.79, -0.78]

# ---------------- styles (color, width, dash, opacity) ----------------
STYLE_P1 = {
    "Actual": ("#111111", 2.6, "solid", 1.0), "MFA model": ("#ff1414", 2.0, "solid", 1.0),
    "CNN": ("#7b97e6", 1.2, "solid", 0.9), "CNN-LSTM": ("#8e8aa5", 1.5, "dot", 0.9),
    "GRU": ("#c9c46a", 1.2, "dashdot", 0.9), "MLP": ("#e3b512", 1.2, "dash", 0.9),
    "LSTM": ("#67c07c", 1.2, "solid", 0.9), "Autoformer": ("#ff1fd0", 1.5, "dash", 1.0),
    "Informer": ("#7fe3f2", 1.2, "dash", 0.9), "Transformer": ("#707070", 1.2, "dashdot", 0.9)}
STYLE_P2 = {
    "Actual": ("#111111", 2.6, "solid", 1.0), "MFA model": ("#ff1414", 2.0, "solid", 1.0),
    "CNN": ("#6d86e0", 1.2, "solid", 0.9), "CNN-LSTM": ("#a48bc8", 1.5, "dot", 0.9),
    "GRU": ("#c3d68e", 2.2, "solid", 0.8), "MLP": ("#ffb347", 1.8, "solid", 0.85),
    "LSTM": ("#55c46a", 1.8, "solid", 0.85), "Autoformer": ("#ff22dd", 1.5, "dash", 1.0),
    "Informer": ("#7fe6f7", 1.8, "solid", 0.85), "Transformer": ("#777777", 1.2, "dashdot", 0.9)}
STYLE_P3 = {
    "Actual": ("#111111", 2.6, "solid", 1.0), "MFA model": ("#ff1414", 2.0, "solid", 1.0),
    "CNN": ("#7a90de", 1.2, "solid", 0.9), "CNN-LSTM": ("#8d83a8", 1.5, "dot", 0.9),
    "GRU": ("#d2cf86", 1.2, "dashdot", 0.9), "MLP": ("#f5c26b", 1.2, "dash", 0.9),
    "LSTM": ("#bcd98a", 2.6, "solid", 0.8), "Autoformer": ("#e83dd0", 1.5, "dash", 1.0),
    "Informer": ("#8fe6f0", 1.2, "dash", 0.9), "Transformer": ("#666666", 1.2, "dashdot", 0.9)}
STYLE_P4 = {
    "Actual": ("#111111", 2.6, "solid", 1.0), "MFA model": ("#ff1414", 2.2, "solid", 1.0),
    "CNN": ("#7f8fe8", 1.2, "solid", 0.9), "CNN-LSTM": ("#9b90b8", 1.5, "dot", 0.9),
    "GRU": ("#3b6e46", 1.5, "dashdot", 0.9), "MLP": ("#f0c419", 1.2, "dash", 0.9),
    "LSTM": ("#b5d67e", 2.6, "solid", 0.8), "Autoformer": ("#ff2ed6", 1.5, "dash", 1.0),
    "Informer": ("#7fe0ee", 1.8, "solid", 0.85), "Transformer": ("#6a6a6a", 1.2, "dashdot", 0.9)}

PANELS = [
    dict(series={"Actual": ACTUAL, "MFA model": P1_MFA, "CNN": P1_CNN, "CNN-LSTM": P1_CNN_LSTM,
                 "GRU": P1_GRU, "MLP": P1_MLP, "LSTM": P1_LSTM, "Autoformer": P1_AUTOFORMER,
                 "Informer": P1_INFORMER, "Transformer": P1_TRANSFORMER},
         styles=STYLE_P1, box=(63, 667, 41, 416), xr=[-5.3, 100.7], yr=[-1.2, 2.5],
         xt=X_TICKS_A, yt=Y_TICKS_A, inset=(497, 651, 61, 244), ixr=[52.6, 75.3], iyr=[-0.8, 1.98],
         legend=(70, 48), title=(366, 22), xlab=(366, 446), ylab=(20, 228),
         ell=(402, 488, 225, 297), arrow=(470, 232, 496, 185)),
    dict(series={"Actual": ACTUAL, "MFA model": P2_MFA, "CNN": P2_CNN, "CNN-LSTM": P2_CNN_LSTM,
                 "GRU": P2_GRU, "MLP": P2_MLP, "LSTM": P2_LSTM, "Autoformer": P2_AUTOFORMER,
                 "Informer": P2_INFORMER, "Transformer": P2_TRANSFORMER},
         styles=STYLE_P2, box=(767, 1368, 44, 420), xr=[-4.8, 101.9], yr=[-1.145, 2.75],
         xt=X_TICKS_A, yt=Y_TICKS_A, inset=(1198, 1348, 52, 247), ixr=[55.1, 70.3], iyr=[0.12, 2.04],
         legend=(772, 50), title=(1055, 25), xlab=(1065, 449), ylab=(722, 232),
         ell=(1106, 1173, 211, 292), arrow=(1168, 222, 1198, 177)),
    dict(series={"Actual": ACTUAL, "MFA model": P3_MFA, "CNN": P3_CNN, "CNN-LSTM": P3_CNN_LSTM,
                 "GRU": P3_GRU, "MLP": P3_MLP, "LSTM": P3_LSTM, "Autoformer": P3_AUTOFORMER,
                 "Informer": P3_INFORMER, "Transformer": P3_TRANSFORMER},
         styles=STYLE_P3, box=(60, 666, 522, 897), xr=[-4.9, 100.7], yr=[-1.15, 2.62],
         xt=X_TICKS_A, yt=Y_TICKS_A, inset=(509, 652, 544, 746), ixr=[54.1, 69.2], iyr=[-0.37, 2.19],
         legend=(66, 527), title=(363, 501), xlab=(363, 926), ylab=(17, 708),
         ell=(417, 484, 707, 783), arrow=(470, 712, 505, 672)),
    dict(series={"Actual": ACTUAL, "MFA model": P4_MFA, "CNN": P4_CNN, "CNN-LSTM": P4_CNN_LSTM,
                 "GRU": P4_GRU, "MLP": P4_MLP, "LSTM": P4_LSTM, "Autoformer": P4_AUTOFORMER,
                 "Informer": P4_INFORMER, "Transformer": P4_TRANSFORMER},
         styles=STYLE_P4, box=(756, 1368, 522, 897), xr=[-4.8, 100.1], yr=[-1.63, 2.43],
         xt=X_TICKS_B, yt=Y_TICKS_B, inset=(1204, 1356, 535, 727), ixr=[57.2, 65.9], iyr=[-0.15, 2.03],
         legend=(762, 527), title=(1038, 503), xlab=(1057, 926), ylab=(712, 708),
         ell=(1133, 1201, 688, 768), arrow=(1187, 692, 1206, 650)),
]

# ---------------- build ----------------
fig = go.Figure()
layout = dict(width=W, height=H, autosize=False, margin=dict(l=0, r=0, t=0, b=0),
              paper_bgcolor="white", plot_bgcolor="white", showlegend=True,
              font=dict(family=SERIF, color="#111"))
annotations, shapes = [], []
draw_order = ["CNN", "CNN-LSTM", "GRU", "MLP", "LSTM", "Autoformer", "Informer", "Transformer",
              "MFA model", "Actual"]

for i, P in enumerate(PANELS):
    n = i + 1
    m = i + 5
    xa = "x" if n == 1 else f"x{n}"
    ya = "y" if n == 1 else f"y{n}"
    leg = "legend" if n == 1 else f"legend{n}"
    l, r, t, b = P["box"]
    il, ir, it, ib = P["inset"]
    for name in draw_order:
        vals = P["series"][name]
        color, width, dash, op = P["styles"][name]
        xs = list(range(len(vals)))
        fig.add_trace(go.Scatter(x=xs, y=vals, mode="lines", name=name,
                                 line=dict(color=color, width=width, dash=dash), opacity=op,
                                 xaxis=xa, yaxis=ya, legend=leg,
                                 legendrank=LEGEND_ORDER.index(name) + 1, hoverinfo="skip"))
        fig.add_trace(go.Scatter(x=xs, y=vals, mode="lines", name=name, showlegend=False,
                                 line=dict(color=color, width=width, dash=dash), opacity=op,
                                 xaxis=f"x{m}", yaxis=f"y{m}", hoverinfo="skip"))
    axis_common = dict(showline=True, mirror=True, linecolor="#555", linewidth=1.5,
                       showgrid=False, zeroline=False, ticks="outside", ticklen=4,
                       tickwidth=1, tickcolor="#555", automargin=False,
                       tickfont=dict(family=SERIF, size=13, color="#111"))
    layout["xaxis" if n == 1 else f"xaxis{n}"] = dict(
        axis_common, domain=[px(l), px(r)], range=P["xr"], anchor=ya,
        tickmode="array", tickvals=P["xt"], ticklabelstandoff=-3)
    layout["yaxis" if n == 1 else f"yaxis{n}"] = dict(
        axis_common, domain=[py(b), py(t)], range=P["yr"], anchor=xa,
        tickmode="array", tickvals=P["yt"], tickformat=".1f")
    inset_common = dict(showline=True, mirror=True, linecolor="#444", linewidth=1.5,
                        showgrid=False, zeroline=False, showticklabels=False, ticks="",
                        automargin=False)
    layout[f"xaxis{m}"] = dict(inset_common, domain=[px(il), px(ir)], range=P["ixr"],
                               anchor=f"y{m}")
    layout[f"yaxis{m}"] = dict(inset_common, domain=[py(ib), py(it)], range=P["iyr"],
                               anchor=f"x{m}")
    lx, ly = P["legend"]
    layout[leg] = dict(x=px(lx), y=py(ly), xanchor="left", yanchor="top",
                       bgcolor="rgba(255,255,255,0.85)", bordercolor="#dddddd", borderwidth=1,
                       font=dict(family=SERIF, size=13.5, color="#111"), tracegroupgap=0,
                       traceorder="normal", itemwidth=38)
    tx, ty = P["title"]
    annotations.append(dict(text=f"<b>{TITLES[i]}</b>", x=px(tx), y=py(ty), xref="paper",
                            yref="paper", showarrow=False, xanchor="center", yanchor="middle",
                            font=dict(family=SERIF, size=20, color="#111")))
    xx, xy = P["xlab"]
    annotations.append(dict(text="Time Step/15min", x=px(xx), y=py(xy), xref="paper",
                            yref="paper", showarrow=False, xanchor="center", yanchor="middle",
                            font=dict(family=SERIF, size=14, color="#111")))
    yx, yy = P["ylab"]
    annotations.append(dict(text="PV/kW", x=px(yx), y=py(yy), xref="paper", yref="paper",
                            showarrow=False, textangle=-90, xanchor="center", yanchor="middle",
                            font=dict(family=SERIF, size=14, color="#111")))
    e0, e1, e2, e3 = P["ell"]
    shapes.append(dict(type="circle", xref="paper", yref="paper", x0=px(e0), x1=px(e1),
                       y0=py(e3), y1=py(e2), line=dict(color="#ff2020", width=1.5, dash="dash")))
    a0, a1, a2, a3 = P["arrow"]
    annotations.append(dict(text="", x=px(a2), y=py(a3), xref="paper", yref="paper",
                            ax=a0 - a2, ay=a1 - a3, showarrow=True, arrowhead=2, arrowsize=1,
                            arrowwidth=2, arrowcolor="#ff2020", standoff=0, startstandoff=0))

layout["annotations"] = annotations
layout["shapes"] = shapes
fig.update_layout(**layout)

PAGE_SCRIPT = (
    "document.documentElement.style.margin='0';"
    "document.body.style.margin='0';document.body.style.padding='0';"
    "document.body.style.overflow='hidden';"
)
fig.write_html("out.html", config={"displayModeBar": False}, post_script=PAGE_SCRIPT)
